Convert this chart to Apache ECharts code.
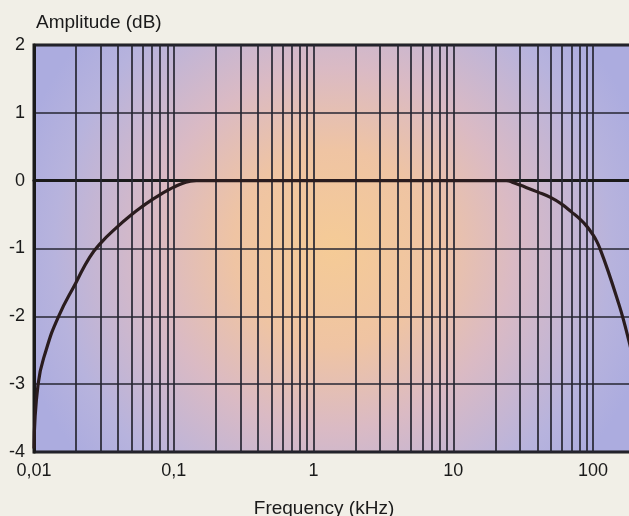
<!DOCTYPE html>
<html>
<head>
<meta charset="utf-8">
<script src="https://cdn.jsdelivr.net/npm/echarts@6/dist/echarts.min.js"></script>
<style>
html,body{margin:0;padding:0;background:#f1efe7;}
#chart{width:629px;height:516px;}
</style>
</head>
<body>
<div id="chart"></div>
<script>
// Frequency response data (kHz, dB)
const freqs = [0.01, 0.0107, 0.0122, 0.015, 0.02, 0.025, 0.03, 0.04, 0.05, 0.06, 0.07, 0.08, 0.09, 0.1, 0.115, 0.13, 0.145,
               1, 10, 20, 24, 27, 30, 40, 50, 60, 70, 80, 90, 100, 106, 112, 128, 153, 164, 181, 190];
const amps  = [-3.95, -3.0, -2.5, -2.0, -1.5, -1.13, -0.92, -0.67, -0.5, -0.375, -0.28, -0.205, -0.145, -0.095, -0.04, -0.01, 0,
               0, 0, 0, 0, -0.03, -0.065, -0.165, -0.25, -0.35, -0.46, -0.56, -0.67, -0.8, -0.89, -1.0, -1.33, -1.82, -2.03, -2.37, -2.55];
// Minor grid line positions (kHz)
const minorGrid = [0.02,0.03,0.04,0.05,0.06,0.07,0.08,0.09,
                   0.2,0.3,0.4,0.5,0.6,0.7,0.8,0.9,
                   2,3,4,5,6,7,8,9,
                   20,30,40,50,60,70,80,90];
const yTicks = [-4,-3,-2,-1,0,1,2];

const chart = echarts.init(document.getElementById('chart'));
const txt = '#1a1a1a';
const gridCol = '#262632';
chart.setOption({
  backgroundColor: '#f1efe7',
  animation: false,
  title: {
    text: 'Amplitude (dB)', left: 36, top: 13, padding: 0,
    textStyle: {fontFamily: 'Liberation Sans', fontSize: 19, fontWeight: 'normal', color: txt}
  },
  grid: {
    left: 34, top: 45, right: -3, bottom: 64, show: true,
    outerBoundsMode: 'none', containLabel: false,
    borderWidth: 3, borderColor: '#1a1a1a',
    backgroundColor: {
      type: 'radial', x: 0.5, y: 0.5, r: 0.8,
      colorStops: [
        {offset: 0, color: '#f5cb96'},
        {offset: 0.3, color: '#efc4a3'},
        {offset: 0.55, color: '#dabac4'},
        {offset: 0.85, color: '#b7b3dd'},
        {offset: 1, color: '#acacdf'}
      ]
    }
  },
  xAxis: {
    type: 'log', logBase: 10, min: 0.01, max: 190,
    name: 'Frequency (kHz)', nameLocation: 'middle', nameGap: 47,
    nameTextStyle: {fontFamily: 'Liberation Sans', fontSize: 19, color: txt, padding: [0, 18, 0, 0]},
    axisLine: {lineStyle: {color: '#1a1a1a', width: 3}},
    axisTick: {show: false},
    axisLabel: {
      fontFamily: 'Liberation Sans', fontSize: 18, color: txt, margin: 10,
      showMaxLabel: false,
      formatter: function (v) {
        const l = Math.log10(v);
        if (Math.abs(l - Math.round(l)) > 1e-6) return '';
        return String(+(+v).toPrecision(3)).replace('.', ',');
      }
    },
    splitLine: {show: true, lineStyle: {color: gridCol, width: 1.7}}
  },
  yAxis: {
    type: 'value', min: yTicks[0], max: yTicks[yTicks.length - 1], interval: 1,
    axisLine: {show: true, lineStyle: {color: '#1a1a1a', width: 3}},
    axisTick: {show: false},
    axisLabel: {fontFamily: 'Liberation Sans', fontSize: 18, color: txt, margin: 9},
    splitLine: {show: true, lineStyle: {color: gridCol, width: 1.7}}
  },
  series: [{
    type: 'line',
    data: freqs.map((f, i) => [f, amps[i]]),
    showSymbol: false,
    smooth: 0.5,
    lineStyle: {color: '#2a1c1e', width: 3.2},
    z: 5,
    markLine: {
      silent: true, symbol: 'none', label: {show: false},
      lineStyle: {color: gridCol, width: 1.7, type: 'solid'},
      data: minorGrid.map(v => ({xAxis: v})),
      z: 1
    }
  }]
});
</script>
</body>
</html>
